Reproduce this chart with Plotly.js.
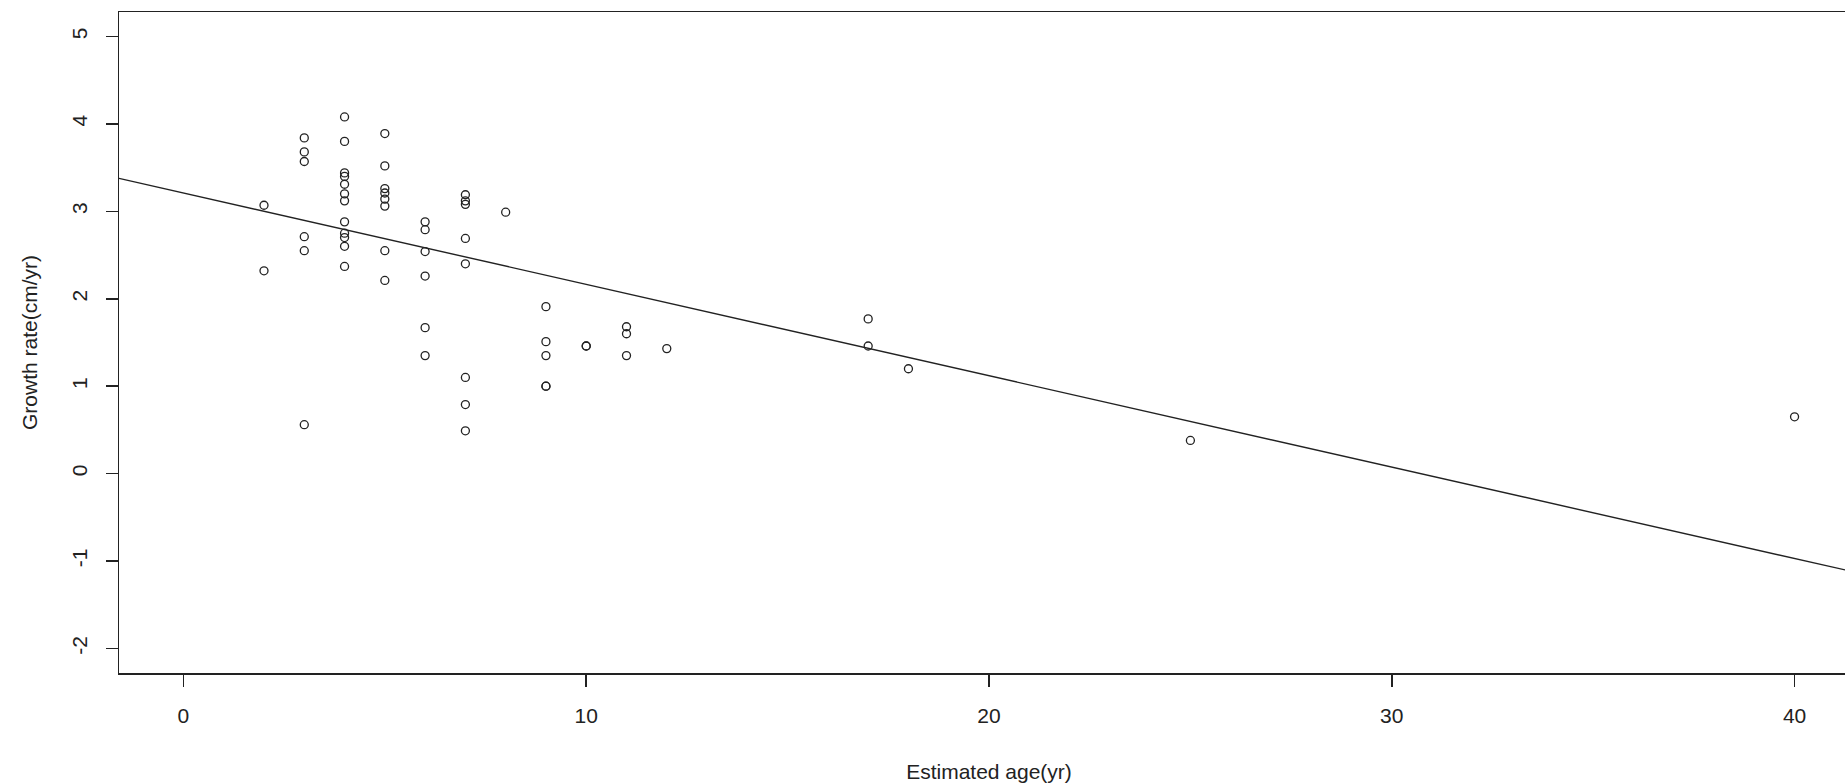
<!DOCTYPE html>
<html>
<head>
<meta charset="utf-8">
<script src="https://cdn.plot.ly/plotly-3.0.1.min.js"></script>
<style>
html, body { margin: 0; padding: 0; overflow: hidden; background: #fff; }
#chart { width: 1860px; height: 783px; }
</style>
</head>
<body>
<div id="chart"></div>
<script>
// Estimated age (yr) of each sampled individual
const ageYr = [
  2, 2,
  3, 3, 3, 3, 3, 3,
  4, 4, 4, 4, 4, 4, 4, 4, 4, 4, 4, 4,
  5, 5, 5, 5, 5, 5, 5, 5,
  6, 6, 6, 6, 6, 6,
  7, 7, 7, 7, 7, 7, 7, 7,
  8,
  9, 9, 9, 9, 9,
  10, 10,
  11, 11, 11,
  12,
  17, 17,
  18,
  25,
  40
];
// Growth rate (cm/yr)
const growthRate = [
  3.07, 2.32,
  3.84, 3.68, 3.57, 2.71, 2.55, 0.56,
  4.08, 3.80, 3.44, 3.40, 3.31, 3.20, 3.12, 2.88, 2.75, 2.70, 2.60, 2.37,
  3.89, 3.52, 3.26, 3.21, 3.14, 3.06, 2.55, 2.21,
  2.88, 2.79, 2.54, 2.26, 1.67, 1.35,
  3.19, 3.12, 3.08, 2.69, 2.40, 1.10, 0.79, 0.49,
  2.99,
  1.91, 1.51, 1.35, 1.00, 1.00,
  1.46, 1.46,
  1.68, 1.60, 1.35,
  1.43,
  1.77, 1.46,
  1.20,
  0.38,
  0.65
];
// Fitted regression line shown on the chart (intercept, slope)
const fitIntercept = 3.21;
const fitSlope = -0.1045;

const xTicks = [0, 10, 20, 30, 40];
const yTicks = [-2, -1, 0, 1, 2, 3, 4, 5];
const xRange = [-1.6, 41.6];
const yRange = [-2.28, 5.28];

const lineX = xRange.slice();
const lineY = lineX.map(v => fitIntercept + fitSlope * v);

const ink = '#222';
const fontFam = '"Liberation Sans", Arial, sans-serif';

const traces = [
  {
    type: 'scatter', mode: 'markers',
    x: ageYr, y: growthRate,
    marker: { symbol: 'circle-open', size: 8, color: ink, line: { width: 1.3, color: ink } },
    showlegend: false, hoverinfo: 'x+y'
  },
  {
    type: 'scatter', mode: 'lines',
    x: lineX, y: lineY,
    line: { color: ink, width: 1.4 },
    showlegend: false, hoverinfo: 'skip'
  }
];

const layout = {
  width: 1860, height: 783,
  margin: { l: 119, r: 1, t: 12, b: 110 },
  paper_bgcolor: '#fff', plot_bgcolor: '#fff',
  font: { family: fontFam, size: 21, color: ink },
  showlegend: false,
  xaxis: {
    range: xRange, tickmode: 'array', tickvals: xTicks, ticktext: xTicks.map(String),
    showgrid: false, zeroline: false,
    showline: true, mirror: true, linecolor: ink, linewidth: 1.5,
    ticks: 'outside', ticklen: 12, tickwidth: 1.5, tickcolor: ink,
    ticklabelstandoff: 11,
    tickfont: { size: 21, color: ink },
    title: { text: 'Estimated age(yr)', font: { size: 21, color: ink }, standoff: 38 },
    automargin: false
  },
  yaxis: {
    range: yRange, tickmode: 'array', tickvals: yTicks, ticktext: yTicks.map(String),
    showgrid: false, zeroline: false,
    showline: true, mirror: true, linecolor: ink, linewidth: 1.5,
    ticks: 'outside', ticklen: 12, tickwidth: 1.5, tickcolor: ink,
    tickangle: -90,
    ticklabelstandoff: 10,
    tickfont: { size: 21, color: ink },
    title: { text: 'Growth rate(cm/yr)', font: { size: 21, color: ink }, standoff: 24 },
    automargin: false
  }
};

Plotly.newPlot('chart', traces, layout, { displayModeBar: false, staticPlot: true });
</script>
</body>
</html>
